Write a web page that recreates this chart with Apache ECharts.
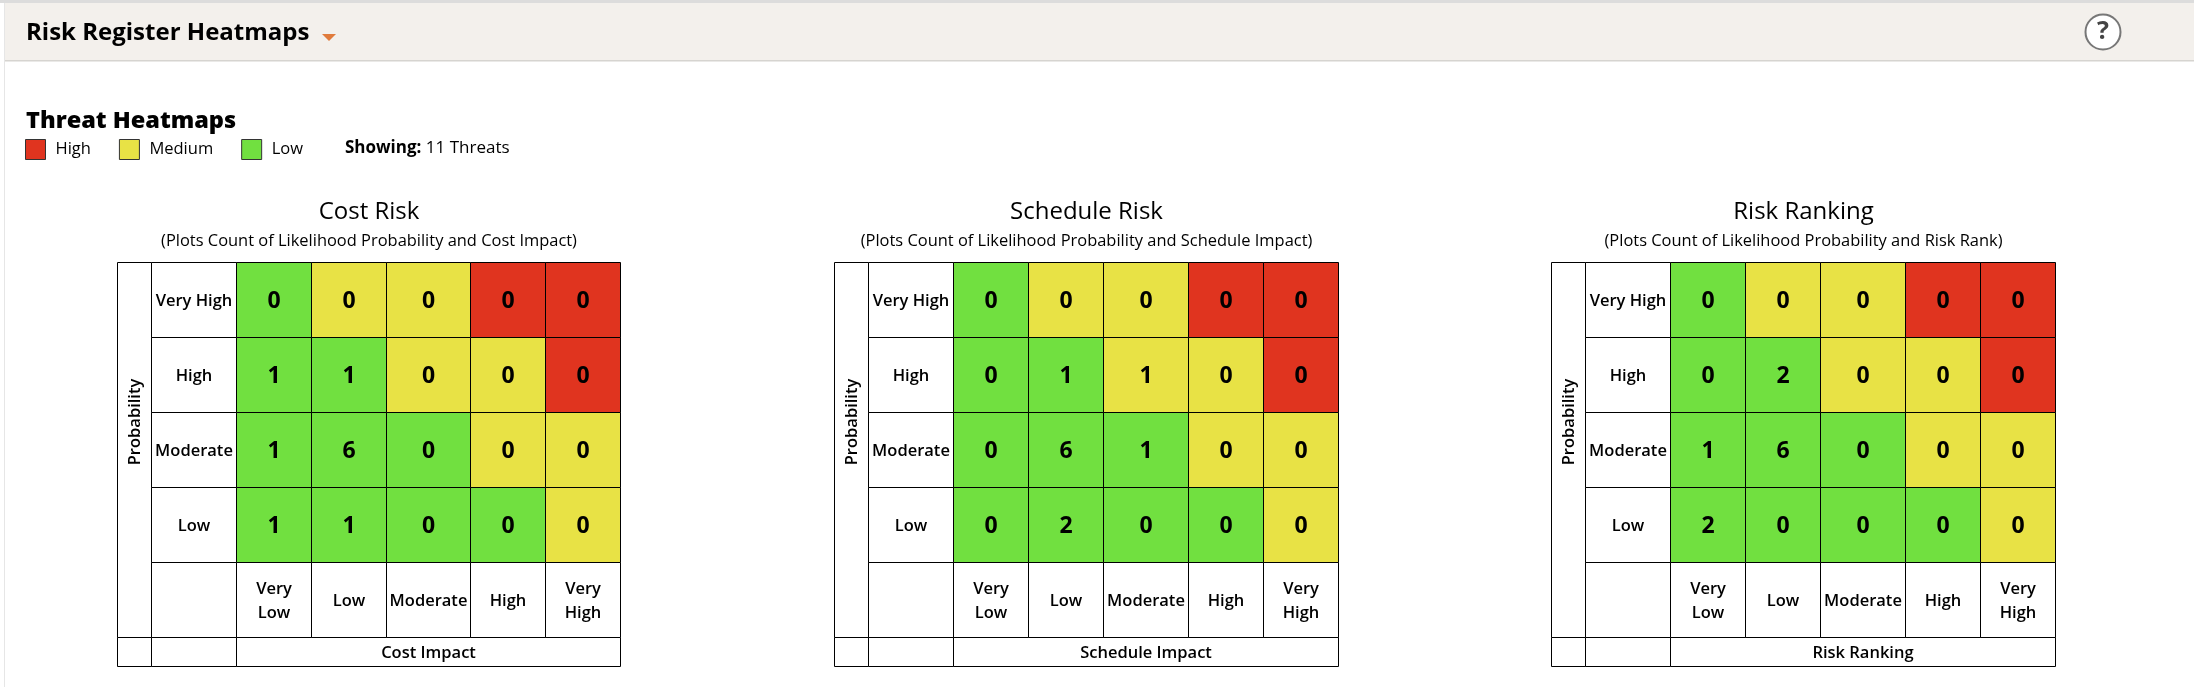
<!DOCTYPE html>
<html>
<head>
    <meta charset="utf-8">
    <title>Risk Register Heatmaps</title>
    <script src="https://cdn.jsdelivr.net/npm/echarts@6/dist/echarts.min.js"></script>
    <style>
        html, body { margin: 0; padding: 0; background: #fff; }
    </style>
</head>
<body>
    <div id="main" style="width: 2194px;height:687px;"></div>
    <script type="text/javascript">
        // data
        var probLevels = ['Very High', 'High', 'Moderate', 'Low'];
        var impactLevels = ['Very Low', 'Low', 'Moderate', 'High', 'Very High'];
        var chartTitles = ['Cost Risk', 'Schedule Risk', 'Risk Ranking'];
        var chartSubtitles = [
            '(Plots Count of Likelihood Probability and Cost Impact)',
            '(Plots Count of Likelihood Probability and Schedule Impact)',
            '(Plots Count of Likelihood Probability and Risk Rank)'
        ];
        var impactTitles = ['Cost Impact', 'Schedule Impact', 'Risk Ranking'];
        var costCounts = [
            [0, 0, 0, 0, 0],
            [1, 1, 0, 0, 0],
            [1, 6, 0, 0, 0],
            [1, 1, 0, 0, 0]
        ];
        var scheduleCounts = [
            [0, 0, 0, 0, 0],
            [0, 1, 1, 0, 0],
            [0, 6, 1, 0, 0],
            [0, 2, 0, 0, 0]
        ];
        var rankCounts = [
            [0, 0, 0, 0, 0],
            [0, 2, 0, 0, 0],
            [1, 6, 0, 0, 0],
            [2, 0, 0, 0, 0]
        ];
        var riskBands = [
            ['Low', 'Medium', 'Medium', 'High', 'High'],
            ['Low', 'Low', 'Medium', 'Medium', 'High'],
            ['Low', 'Low', 'Low', 'Medium', 'Medium'],
            ['Low', 'Low', 'Low', 'Low', 'Medium']
        ];
        var riskNames = ['High', 'Medium', 'Low'];
        var threatCount = 11;

        // layout and colours
        var allCounts = [costCounts, scheduleCounts, rankCounts];
        var riskColors = { High: '#E0341F', Medium: '#E8E245', Low: '#71E040' };
        var fontName = '"Open Sans", sans-serif';
        var gridLefts = [117.5, 834.5, 1551.5];
        var gridTop = 262.5;
        // table columns: probability, level names, then the five impact levels
        var tableCols = [
            [34, 85, 75, 75, 84, 75, 75],
            [34, 85, 75, 75, 85, 75, 75],
            [34, 85, 75, 75, 85, 75, 75]
        ];
        var rowHeights = [75, 75, 75, 75, 75, 29];

        function edges(sizes) {
            var out = [0];
            for (var i = 0; i < sizes.length; i++) {
                out.push(out[i] + sizes[i]);
            }
            return out;
        }
        var rowEdges = edges(rowHeights);
        var tableHeight = rowEdges[rowEdges.length - 1];

        // draws one table cell, spanning value(0..1) cols and value(2..3) rows
        function cellRenderer(colEdges) {
            return function (params, api) {
                var c0 = api.value(0), c1 = api.value(1), r0 = api.value(2), r1 = api.value(3);
                var text = api.value(4);
                var kind = api.value(5);
                var p0 = api.coord([colEdges[c0], rowEdges[r0]]);
                var p1 = api.coord([colEdges[c1], rowEdges[r1]]);
                var children = [{
                    type: 'rect',
                    shape: { x: p0[0], y: p0[1], width: p1[0] - p0[0], height: p1[1] - p0[1] },
                    style: { fill: api.visual('color'), stroke: '#000', lineWidth: 1 }
                }];
                if (text !== '' && text !== null) {
                    var isCount = kind === 'count';
                    var isProb = kind === 'prob';
                    children.push({
                        type: 'text',
                        x: (p0[0] + p1[0]) / 2 + (isProb ? 1 : 0),
                        y: isProb ? 422 : (p0[1] + p1[1]) / 2 + 1,
                        rotation: isProb ? Math.PI / 2 : 0,
                        style: {
                            text: String(text).replace('|', '\n'),
                            align: 'center',
                            verticalAlign: 'middle',
                            fill: '#000',
                            fontFamily: fontName,
                            fontSize: isCount ? 23 : 16.5,
                            fontWeight: isCount ? 700 : 600,
                            lineHeight: 24
                        }
                    });
                }
                return { type: 'group', children: children };
            };
        }

        var grids = [], xAxes = [], yAxes = [], series = [], titles = [];

        function cellSeries(name, color, idx, render, data) {
            return {
                name: name,
                type: 'custom',
                xAxisIndex: idx,
                yAxisIndex: idx,
                clip: false,
                silent: true,
                itemStyle: { color: color },
                renderItem: render,
                encode: { x: 0, y: 2 },
                data: data
            };
        }

        allCounts.forEach(function (counts, i) {
            var colEdges = edges(tableCols[i]);
            var tableWidth = colEdges[colEdges.length - 1];
            var render = cellRenderer(colEdges);
            grids.push({ left: gridLefts[i], top: gridTop, width: tableWidth, height: tableHeight });
            xAxes.push({ type: 'value', gridIndex: i, show: false, min: 0, max: tableWidth });
            yAxes.push({ type: 'value', gridIndex: i, show: false, inverse: true, min: 0, max: tableHeight });

            // white header cells
            var whites = [
                [0, 1, 0, 5, 'Probability', 'prob'],
                [1, 2, 4, 5, '', 'blank'],
                [0, 1, 5, 6, '', 'blank'],
                [1, 2, 5, 6, '', 'blank'],
                [2, 7, 5, 6, impactTitles[i], 'label']
            ];
            probLevels.forEach(function (name, r) {
                whites.push([1, 2, r, r + 1, name, 'label']);
            });
            impactLevels.forEach(function (name, c) {
                whites.push([c + 2, c + 3, 4, 5, name.replace(' ', '|'), 'label']);
            });
            series.push(cellSeries('labels', '#fff', i, render, whites));

            // coloured cells, one series per risk band so the legend can pick them up
            riskNames.forEach(function (risk) {
                var cells = [];
                counts.forEach(function (row, r) {
                    row.forEach(function (v, c) {
                        if (riskBands[r][c] === risk) {
                            cells.push([c + 2, c + 3, r, r + 1, v, 'count']);
                        }
                    });
                });
                series.push(cellSeries(risk, riskColors[risk], i, render, cells));
            });

            var center = gridLefts[i] + tableWidth / 2;
            titles.push({
                text: chartTitles[i],
                left: center,
                top: 200,
                padding: 0,
                textAlign: 'center',
                textStyle: { fontFamily: fontName, fontSize: 24, fontWeight: 400, color: '#000' }
            });
            titles.push({
                text: chartSubtitles[i],
                left: center,
                top: 233,
                padding: 0,
                textAlign: 'center',
                textStyle: { fontFamily: fontName, fontSize: 16.45, fontWeight: 400, color: '#000' }
            });
        });

        var myChart = echarts.init(document.getElementById('main'));
        var option = {
            animation: false,
            backgroundColor: '#fff',
            title: titles,
            legend: {
                left: 25,
                top: 139,
                padding: 0,
                data: riskNames,
                icon: 'rect',
                itemWidth: 20,
                itemHeight: 20,
                itemGap: 28,
                selectedMode: false,
                itemStyle: { borderColor: '#333', borderWidth: 1 },
                textStyle: { fontFamily: fontName, fontSize: 16.5, color: '#000', padding: [0, 0, 0, 5] }
            },
            grid: grids,
            xAxis: xAxes,
            yAxis: yAxes,
            series: series,
            graphic: [
                { type: 'rect', z: -1, shape: { x: 0, y: 0, width: 2194, height: 3 }, style: { fill: '#dcdcdc' } },
                { type: 'rect', z: -1, shape: { x: 4, y: 3, width: 2190, height: 57 }, style: { fill: '#F3F0EC' } },
                { type: 'rect', z: -1, shape: { x: 4, y: 60, width: 2190, height: 1.5 }, style: { fill: '#d6d4d0' } },
                { type: 'rect', z: -1, shape: { x: 4, y: 3, width: 1, height: 684 }, style: { fill: '#e6e6e6' } },
                {
                    type: 'text', left: 26, top: 21,
                    style: { text: 'Risk Register Heatmaps', fontFamily: fontName, fontSize: 24, fontWeight: 700, fill: '#000' }
                },
                {
                    type: 'polygon',
                    shape: { points: [[322, 34], [336, 34], [329, 41]] },
                    style: { fill: '#E07B3C' }
                },
                {
                    type: 'circle',
                    shape: { cx: 2103, cy: 32, r: 17.5 },
                    style: { fill: '#fff', stroke: '#777', lineWidth: 2 }
                },
                {
                    type: 'text', x: 2103, y: 32,
                    style: { text: '?', align: 'center', verticalAlign: 'middle', fontFamily: fontName, fontSize: 25, fontWeight: 700, fill: '#444' }
                },
                {
                    type: 'text', left: 26, top: 109,
                    style: { text: 'Threat Heatmaps', fontFamily: fontName, fontSize: 23.5, fontWeight: 800, fill: '#000' }
                },
                {
                    type: 'text', left: 345, top: 140,
                    style: {
                        text: '{b|Showing:} ' + threatCount + ' Threats',
                        fontFamily: fontName,
                        fontSize: 17,
                        fill: '#000',
                        rich: { b: { fontFamily: fontName, fontSize: 17, fontWeight: 700, fill: '#000' } }
                    }
                }
            ]
        };
        myChart.setOption(option);
    </script>
</body>
</html>
